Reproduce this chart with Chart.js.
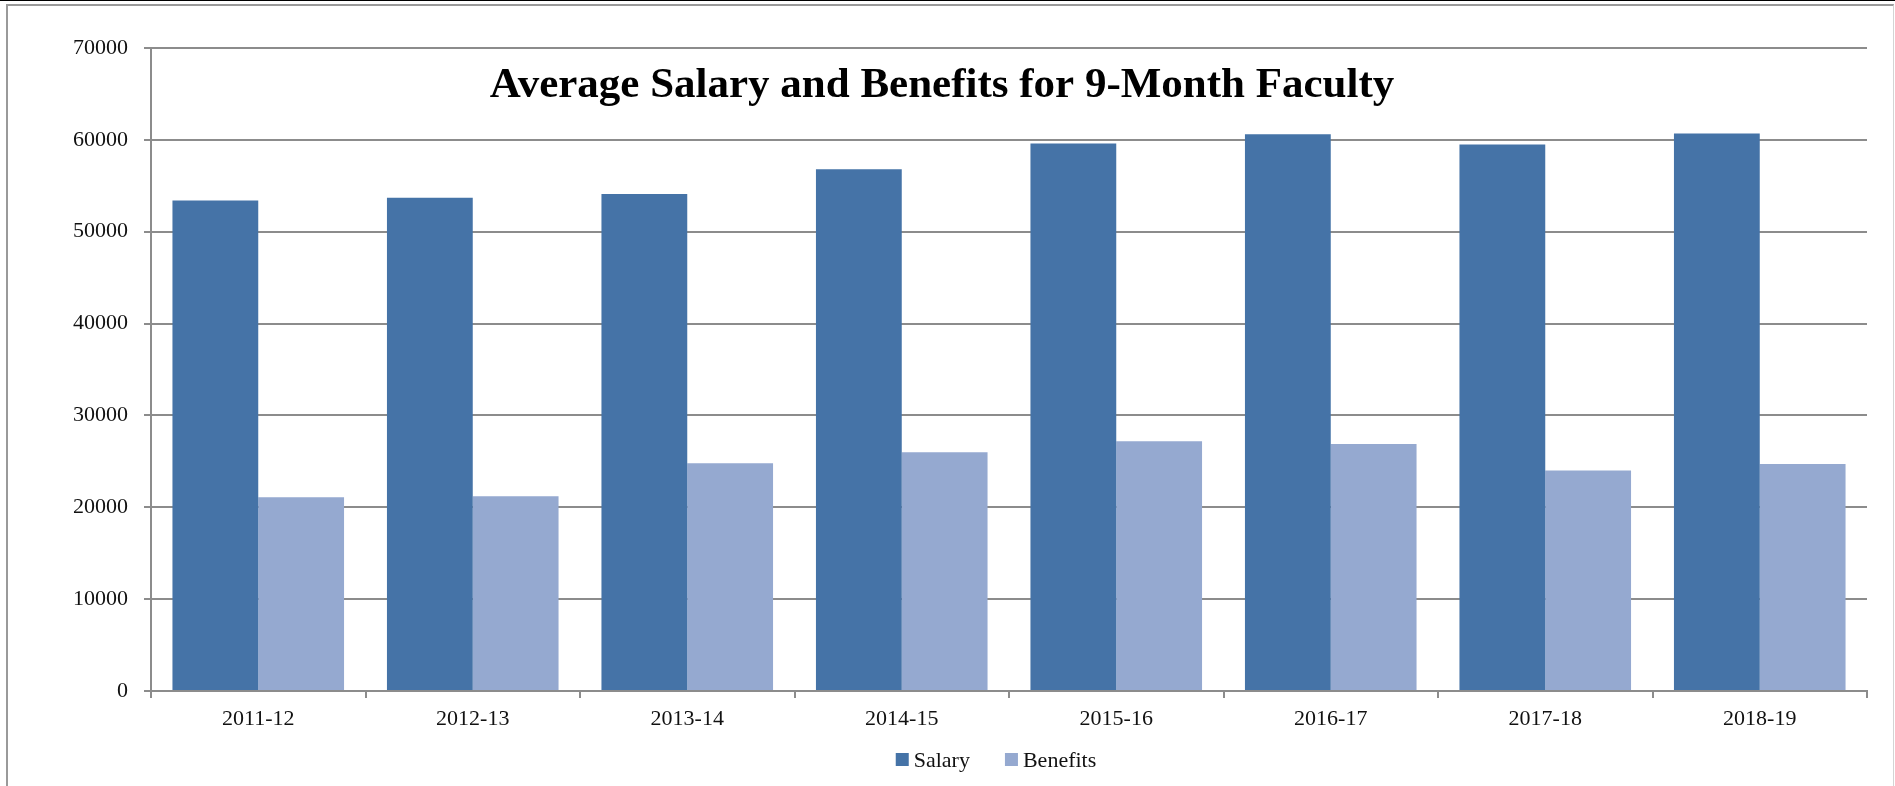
<!DOCTYPE html>
<html>
<head>
<meta charset="utf-8">
<title>Average Salary and Benefits for 9-Month Faculty</title>
<script src="https://cdn.jsdelivr.net/npm/chart.js@4"></script>
<style>
  html, body { margin: 0; padding: 0; background: #fff; overflow: hidden; }
  #topLine { position: absolute; left: 0; top: 0; width: 1895px; height: 1px; background: #000; }
  #frame {
    position: absolute; left: 6px; top: 4px; width: 1885px; height: 790px;
    border-top: 2px solid #9a9a9a; border-left: 2px solid #9a9a9a; border-right: 1px solid #d4d4d4;
  }
  #salaryChart { position: absolute; left: 0; top: 0; }
</style>
</head>
<body>
<div id="topLine"></div>
<div id="frame"></div>
<canvas id="salaryChart" width="1895" height="786"></canvas>
<script>
const years = ["2011-12", "2012-13", "2013-14", "2014-15", "2015-16", "2016-17", "2017-18", "2018-19"];
const salary = [53400, 53700, 54100, 56800, 59600, 60600, 59500, 60700];
const benefits = [21100, 21200, 24800, 26000, 27200, 26900, 24000, 24700];
const yTicks = [0, 10000, 20000, 30000, 40000, 50000, 60000, 70000];

const titleText = "Average Salary and Benefits for 9-Month Faculty";
const serif = "'Liberation Serif', 'Times New Roman', serif";
const gridColor = "#8c8c8c";

// title sits inside the plot area, and the legend is laid out like the original
const titleAndLegend = {
  id: "titleAndLegend",
  afterDraw(chart) {
    const ctx = chart.ctx;
    ctx.save();
    ctx.fillStyle = "#000";
    ctx.font = "bold 43px " + serif;
    ctx.textAlign = "center";
    ctx.textBaseline = "middle";
    ctx.fillText(titleText, 942, 86);

    ctx.font = "22px " + serif;
    ctx.textAlign = "left";
    const items = chart.data.datasets.map(ds => ({ label: ds.label, color: ds.backgroundColor }));
    const box = 13, gapText = 5, gapItem = 35;
    let total = 0;
    items.forEach((it, i) => {
      total += box + gapText + ctx.measureText(it.label).width + (i < items.length - 1 ? gapItem : 0);
    });
    let x = 996 - total / 2;
    const y = 760;
    items.forEach(it => {
      ctx.fillStyle = it.color;
      ctx.fillRect(x, y - 7, box, box);
      x += box + gapText;
      ctx.fillStyle = "#111";
      ctx.fillText(it.label, x, y + 1);
      x += ctx.measureText(it.label).width + gapItem;
    });
    ctx.restore();
  }
};

const ctx = document.getElementById("salaryChart");

new Chart(ctx, {
  type: "bar",
  data: {
    labels: years,
    datasets: [
      { label: "Salary", data: salary, backgroundColor: "#4573a7" },
      { label: "Benefits", data: benefits, backgroundColor: "#95a9d0" },
    ],
  },
  options: {
    responsive: false,
    animation: false,
    devicePixelRatio: 1,
    layout: { padding: { top: 48, right: 28, bottom: 50, left: 0 } },
    datasets: {
      bar: { categoryPercentage: 0.8, barPercentage: 1.0 },
    },
    plugins: {
      legend: { display: false },
      title: { display: false },
      tooltip: { enabled: false },
    },
    scales: {
      x: {
        afterFit(scale) { scale.height = 45; },
        grid: {
          offset: true,
          drawOnChartArea: false,
          drawTicks: true,
          tickLength: 7,
          color: gridColor,
          lineWidth: 2,
        },
        border: { color: gridColor, width: 2 },
        ticks: {
          color: "#111",
          padding: 8,
          font: { family: serif, size: 22 },
        },
      },
      y: {
        min: 0,
        max: 70000,
        afterFit(scale) { scale.width = 151; },
        afterBuildTicks(scale) { scale.ticks = yTicks.map(v => ({ value: v })); },
        grid: {
          color: gridColor,
          lineWidth: 2,
          drawTicks: true,
          tickLength: 7,
        },
        border: { color: gridColor, width: 2 },
        ticks: {
          color: "#111",
          padding: 16,
          font: { family: serif, size: 22 },
          callback: v => String(v),
        },
      },
    },
  },
  plugins: [titleAndLegend],
});
</script>
</body>
</html>
